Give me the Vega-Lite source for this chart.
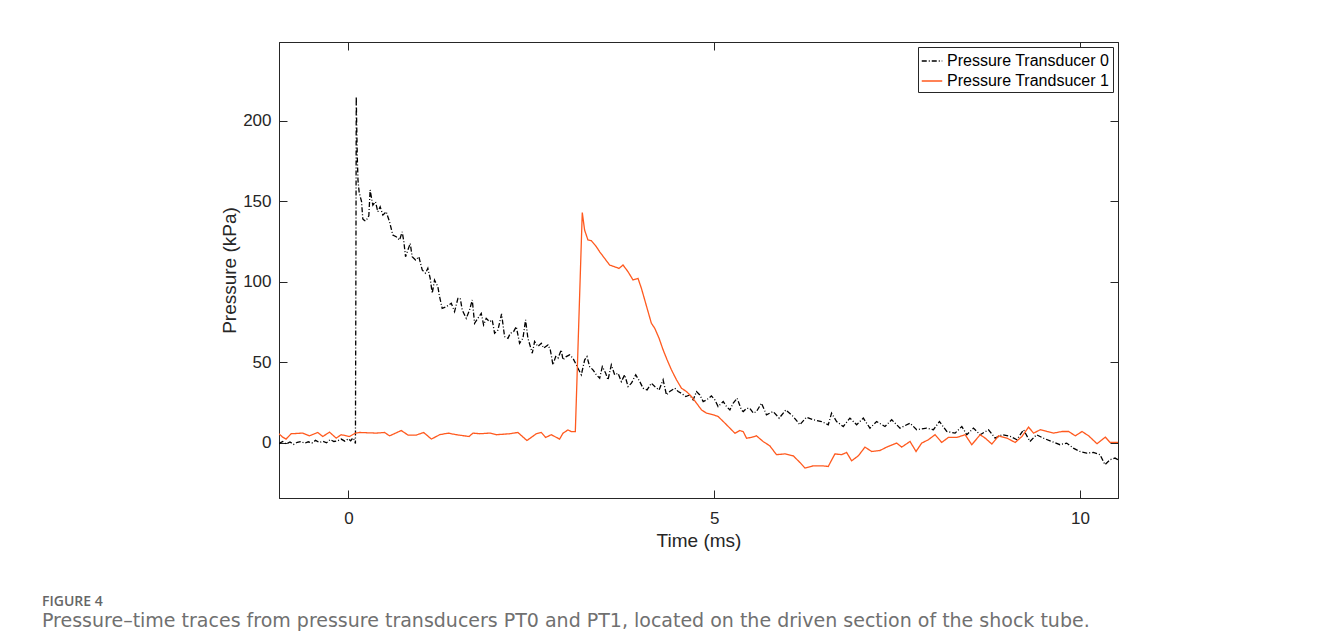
{
  "$schema": "https://vega.github.io/schema/vega-lite/v6.json",
  "width": 839,
  "height": 456,
  "autosize": "none",
  "padding": {"left": 279, "top": 42, "right": 213, "bottom": 138},
  "background": "white",
  "config": {
    "font": "Liberation Sans",
    "view": {"stroke": "#262626", "strokeWidth": 1},
    "legend": {
      "orient": "top-right",
      "offset": 5,
      "padding": 3,
      "strokeColor": "#262626",
      "fillColor": "white",
      "cornerRadius": 0,
      "labelFont": "Liberation Sans",
      "labelFontSize": 16,
      "labelColor": "#000000",
      "labelLimit": 400,
      "symbolType": "stroke",
      "symbolSize": 420,
      "symbolStrokeWidth": 1.3,
      "rowPadding": 1,
      "labelOffset": 4
    }
  },
  "title": {
    "text": "FIGURE 4",
    "subtitle": "Pressure\u2013time traces from pressure transducers PT0 and PT1, located on the driven section of the shock tube.",
    "orient": "bottom",
    "anchor": "start",
    "frame": "group",
    "dx": -237,
    "offset": 45,
    "font": "Open Sans",
    "fontSize": 14,
    "fontWeight": 600,
    "color": "#666666",
    "subtitleFont": "DejaVu Sans",
    "subtitleFontSize": 19,
    "subtitleColor": "#707070",
    "subtitlePadding": 3
  },
  "data": {"values": [
    {"s":"Pressure Transducer 0","t":-0.95,"p":-0.5},{"s":"Pressure Transducer 0","t":-0.9,"p":0.8},{"s":"Pressure Transducer 0","t":-0.85,"p":-0.8},{"s":"Pressure Transducer 0","t":-0.8,"p":0.5},{"s":"Pressure Transducer 0","t":-0.75,"p":-1.0},{"s":"Pressure Transducer 0","t":-0.7,"p":0.3},{"s":"Pressure Transducer 0","t":-0.65,"p":0.8},{"s":"Pressure Transducer 0","t":-0.6,"p":-0.3},{"s":"Pressure Transducer 0","t":-0.55,"p":0.6},{"s":"Pressure Transducer 0","t":-0.5,"p":-0.2},{"s":"Pressure Transducer 0","t":-0.45,"p":1.5},{"s":"Pressure Transducer 0","t":-0.4,"p":0.2},{"s":"Pressure Transducer 0","t":-0.35,"p":0.9},{"s":"Pressure Transducer 0","t":-0.3,"p":0.0},{"s":"Pressure Transducer 0","t":-0.25,"p":2.0},{"s":"Pressure Transducer 0","t":-0.2,"p":0.8},{"s":"Pressure Transducer 0","t":-0.15,"p":1.2},{"s":"Pressure Transducer 0","t":-0.1,"p":2.3},{"s":"Pressure Transducer 0","t":-0.05,"p":1.0},{"s":"Pressure Transducer 0","t":0.0,"p":2.5},{"s":"Pressure Transducer 0","t":0.03,"p":1.2},{"s":"Pressure Transducer 0","t":0.06,"p":3.0},{"s":"Pressure Transducer 0","t":0.08,"p":1.8},{"s":"Pressure Transducer 0","t":0.095,"p":-0.5},{"s":"Pressure Transducer 0","t":0.102,"p":120},{"s":"Pressure Transducer 0","t":0.106,"p":215},{"s":"Pressure Transducer 0","t":0.112,"p":198},{"s":"Pressure Transducer 0","t":0.12,"p":178},{"s":"Pressure Transducer 0","t":0.13,"p":163},{"s":"Pressure Transducer 0","t":0.145,"p":156},{"s":"Pressure Transducer 0","t":0.16,"p":153},{"s":"Pressure Transducer 0","t":0.178,"p":150},{"s":"Pressure Transducer 0","t":0.196,"p":139},{"s":"Pressure Transducer 0","t":0.22,"p":138},{"s":"Pressure Transducer 0","t":0.242,"p":138},{"s":"Pressure Transducer 0","t":0.265,"p":140},{"s":"Pressure Transducer 0","t":0.278,"p":141},{"s":"Pressure Transducer 0","t":0.296,"p":157},{"s":"Pressure Transducer 0","t":0.315,"p":152},{"s":"Pressure Transducer 0","t":0.333,"p":147.6},{"s":"Pressure Transducer 0","t":0.369,"p":149.7},{"s":"Pressure Transducer 0","t":0.401,"p":143.5},{"s":"Pressure Transducer 0","t":0.433,"p":146.6},{"s":"Pressure Transducer 0","t":0.47,"p":141.4},{"s":"Pressure Transducer 0","t":0.515,"p":143.5},{"s":"Pressure Transducer 0","t":0.561,"p":137.3},{"s":"Pressure Transducer 0","t":0.606,"p":129},{"s":"Pressure Transducer 0","t":0.652,"p":128},{"s":"Pressure Transducer 0","t":0.698,"p":125.9},{"s":"Pressure Transducer 0","t":0.734,"p":131},{"s":"Pressure Transducer 0","t":0.757,"p":124.9},{"s":"Pressure Transducer 0","t":0.78,"p":115.5},{"s":"Pressure Transducer 0","t":0.812,"p":119.7},{"s":"Pressure Transducer 0","t":0.844,"p":123.8},{"s":"Pressure Transducer 0","t":0.871,"p":115.5},{"s":"Pressure Transducer 0","t":0.917,"p":113.5},{"s":"Pressure Transducer 0","t":0.962,"p":115.5},{"s":"Pressure Transducer 0","t":1.008,"p":107.3},{"s":"Pressure Transducer 0","t":1.053,"p":105.3},{"s":"Pressure Transducer 0","t":1.085,"p":108.4},{"s":"Pressure Transducer 0","t":1.117,"p":102.1},{"s":"Pressure Transducer 0","t":1.145,"p":92.8},{"s":"Pressure Transducer 0","t":1.176,"p":101},{"s":"Pressure Transducer 0","t":1.222,"p":96.9},{"s":"Pressure Transducer 0","t":1.245,"p":90.8},{"s":"Pressure Transducer 0","t":1.281,"p":83.5},{"s":"Pressure Transducer 0","t":1.336,"p":84.5},{"s":"Pressure Transducer 0","t":1.405,"p":86.6},{"s":"Pressure Transducer 0","t":1.45,"p":81.5},{"s":"Pressure Transducer 0","t":1.496,"p":89.7},{"s":"Pressure Transducer 0","t":1.528,"p":89.7},{"s":"Pressure Transducer 0","t":1.555,"p":82.5},{"s":"Pressure Transducer 0","t":1.61,"p":77.3},{"s":"Pressure Transducer 0","t":1.655,"p":82.5},{"s":"Pressure Transducer 0","t":1.692,"p":88.7},{"s":"Pressure Transducer 0","t":1.724,"p":74.2},{"s":"Pressure Transducer 0","t":1.769,"p":77.3},{"s":"Pressure Transducer 0","t":1.815,"p":80.4},{"s":"Pressure Transducer 0","t":1.847,"p":73.2},{"s":"Pressure Transducer 0","t":1.883,"p":77.3},{"s":"Pressure Transducer 0","t":1.929,"p":75.2},{"s":"Pressure Transducer 0","t":1.965,"p":76.3},{"s":"Pressure Transducer 0","t":1.997,"p":68},{"s":"Pressure Transducer 0","t":2.043,"p":70},{"s":"Pressure Transducer 0","t":2.093,"p":80},{"s":"Pressure Transducer 0","t":2.134,"p":65.9},{"s":"Pressure Transducer 0","t":2.18,"p":64.9},{"s":"Pressure Transducer 0","t":2.212,"p":68},{"s":"Pressure Transducer 0","t":2.257,"p":69},{"s":"Pressure Transducer 0","t":2.294,"p":72.1},{"s":"Pressure Transducer 0","t":2.339,"p":61.8},{"s":"Pressure Transducer 0","t":2.385,"p":64.9},{"s":"Pressure Transducer 0","t":2.421,"p":76.3},{"s":"Pressure Transducer 0","t":2.453,"p":64.9},{"s":"Pressure Transducer 0","t":2.513,"p":55.6},{"s":"Pressure Transducer 0","t":2.544,"p":62.9},{"s":"Pressure Transducer 0","t":2.59,"p":59.8},{"s":"Pressure Transducer 0","t":2.636,"p":61.8},{"s":"Pressure Transducer 0","t":2.668,"p":58.8},{"s":"Pressure Transducer 0","t":2.727,"p":60.8},{"s":"Pressure Transducer 0","t":2.759,"p":57.7},{"s":"Pressure Transducer 0","t":2.795,"p":48.4},{"s":"Pressure Transducer 0","t":2.832,"p":53.5},{"s":"Pressure Transducer 0","t":2.864,"p":52.5},{"s":"Pressure Transducer 0","t":2.909,"p":57.7},{"s":"Pressure Transducer 0","t":2.932,"p":51.5},{"s":"Pressure Transducer 0","t":2.977,"p":53.5},{"s":"Pressure Transducer 0","t":3.023,"p":54.6},{"s":"Pressure Transducer 0","t":3.069,"p":52.5},{"s":"Pressure Transducer 0","t":3.114,"p":48.4},{"s":"Pressure Transducer 0","t":3.137,"p":46.3},{"s":"Pressure Transducer 0","t":3.183,"p":42.2},{"s":"Pressure Transducer 0","t":3.229,"p":51.5},{"s":"Pressure Transducer 0","t":3.26,"p":53.5},{"s":"Pressure Transducer 0","t":3.297,"p":47.3},{"s":"Pressure Transducer 0","t":3.342,"p":45.3},{"s":"Pressure Transducer 0","t":3.388,"p":42.2},{"s":"Pressure Transducer 0","t":3.434,"p":40.1},{"s":"Pressure Transducer 0","t":3.47,"p":47.3},{"s":"Pressure Transducer 0","t":3.516,"p":43.2},{"s":"Pressure Transducer 0","t":3.548,"p":39.1},{"s":"Pressure Transducer 0","t":3.593,"p":48.4},{"s":"Pressure Transducer 0","t":3.639,"p":42.2},{"s":"Pressure Transducer 0","t":3.685,"p":43.2},{"s":"Pressure Transducer 0","t":3.73,"p":38},{"s":"Pressure Transducer 0","t":3.776,"p":42.2},{"s":"Pressure Transducer 0","t":3.822,"p":34.9},{"s":"Pressure Transducer 0","t":3.868,"p":37},{"s":"Pressure Transducer 0","t":3.927,"p":42.2},{"s":"Pressure Transducer 0","t":3.982,"p":38},{"s":"Pressure Transducer 0","t":4.027,"p":33.9},{"s":"Pressure Transducer 0","t":4.082,"p":32.8},{"s":"Pressure Transducer 0","t":4.141,"p":37},{"s":"Pressure Transducer 0","t":4.187,"p":34.9},{"s":"Pressure Transducer 0","t":4.246,"p":32.8},{"s":"Pressure Transducer 0","t":4.301,"p":39.1},{"s":"Pressure Transducer 0","t":4.347,"p":29.7},{"s":"Pressure Transducer 0","t":4.392,"p":31.8},{"s":"Pressure Transducer 0","t":4.461,"p":33.9},{"s":"Pressure Transducer 0","t":4.507,"p":31.8},{"s":"Pressure Transducer 0","t":4.552,"p":30.7},{"s":"Pressure Transducer 0","t":4.611,"p":28.7},{"s":"Pressure Transducer 0","t":4.666,"p":29.7},{"s":"Pressure Transducer 0","t":4.712,"p":26.6},{"s":"Pressure Transducer 0","t":4.758,"p":31.8},{"s":"Pressure Transducer 0","t":4.803,"p":29.7},{"s":"Pressure Transducer 0","t":4.849,"p":25.6},{"s":"Pressure Transducer 0","t":4.895,"p":26.6},{"s":"Pressure Transducer 0","t":4.961,"p":29.1},{"s":"Pressure Transducer 0","t":5.009,"p":26.6},{"s":"Pressure Transducer 0","t":5.053,"p":22.5},{"s":"Pressure Transducer 0","t":5.123,"p":25.6},{"s":"Pressure Transducer 0","t":5.168,"p":22.5},{"s":"Pressure Transducer 0","t":5.214,"p":20.4},{"s":"Pressure Transducer 0","t":5.26,"p":24.6},{"s":"Pressure Transducer 0","t":5.313,"p":27.7},{"s":"Pressure Transducer 0","t":5.372,"p":20.4},{"s":"Pressure Transducer 0","t":5.397,"p":19.4},{"s":"Pressure Transducer 0","t":5.442,"p":21.4},{"s":"Pressure Transducer 0","t":5.486,"p":21.4},{"s":"Pressure Transducer 0","t":5.534,"p":18.4},{"s":"Pressure Transducer 0","t":5.578,"p":19.4},{"s":"Pressure Transducer 0","t":5.646,"p":24.6},{"s":"Pressure Transducer 0","t":5.714,"p":17.4},{"s":"Pressure Transducer 0","t":5.806,"p":19.4},{"s":"Pressure Transducer 0","t":5.888,"p":15.3},{"s":"Pressure Transducer 0","t":5.979,"p":20.4},{"s":"Pressure Transducer 0","t":6.08,"p":16.3},{"s":"Pressure Transducer 0","t":6.171,"p":11.2},{"s":"Pressure Transducer 0","t":6.262,"p":15.9},{"s":"Pressure Transducer 0","t":6.353,"p":14.3},{"s":"Pressure Transducer 0","t":6.467,"p":13.2},{"s":"Pressure Transducer 0","t":6.559,"p":11.2},{"s":"Pressure Transducer 0","t":6.604,"p":18.4},{"s":"Pressure Transducer 0","t":6.673,"p":13.2},{"s":"Pressure Transducer 0","t":6.764,"p":10.1},{"s":"Pressure Transducer 0","t":6.855,"p":15.3},{"s":"Pressure Transducer 0","t":6.947,"p":11.2},{"s":"Pressure Transducer 0","t":7.038,"p":15.3},{"s":"Pressure Transducer 0","t":7.129,"p":9.1},{"s":"Pressure Transducer 0","t":7.22,"p":13.2},{"s":"Pressure Transducer 0","t":7.334,"p":10.1},{"s":"Pressure Transducer 0","t":7.426,"p":14.3},{"s":"Pressure Transducer 0","t":7.54,"p":9.1},{"s":"Pressure Transducer 0","t":7.677,"p":12.2},{"s":"Pressure Transducer 0","t":7.768,"p":8.1},{"s":"Pressure Transducer 0","t":7.905,"p":9.1},{"s":"Pressure Transducer 0","t":7.997,"p":8.1},{"s":"Pressure Transducer 0","t":8.079,"p":13.2},{"s":"Pressure Transducer 0","t":8.179,"p":7},{"s":"Pressure Transducer 0","t":8.293,"p":6},{"s":"Pressure Transducer 0","t":8.385,"p":10.1},{"s":"Pressure Transducer 0","t":8.453,"p":5},{"s":"Pressure Transducer 0","t":8.544,"p":9.1},{"s":"Pressure Transducer 0","t":8.636,"p":5},{"s":"Pressure Transducer 0","t":8.75,"p":8.1},{"s":"Pressure Transducer 0","t":8.841,"p":2.9},{"s":"Pressure Transducer 0","t":8.933,"p":5},{"s":"Pressure Transducer 0","t":9.047,"p":4},{"s":"Pressure Transducer 0","t":9.138,"p":1.9},{"s":"Pressure Transducer 0","t":9.229,"p":8.1},{"s":"Pressure Transducer 0","t":9.316,"p":0.8},{"s":"Pressure Transducer 0","t":9.407,"p":5},{"s":"Pressure Transducer 0","t":9.498,"p":2.9},{"s":"Pressure Transducer 0","t":9.612,"p":0.8},{"s":"Pressure Transducer 0","t":9.727,"p":-1.2},{"s":"Pressure Transducer 0","t":9.818,"p":-0.2},{"s":"Pressure Transducer 0","t":9.909,"p":-3.3},{"s":"Pressure Transducer 0","t":10.0,"p":-5.4},{"s":"Pressure Transducer 0","t":10.092,"p":-6.4},{"s":"Pressure Transducer 0","t":10.183,"p":-6},{"s":"Pressure Transducer 0","t":10.274,"p":-7.4},{"s":"Pressure Transducer 0","t":10.342,"p":-13.6},{"s":"Pressure Transducer 0","t":10.411,"p":-10.5},{"s":"Pressure Transducer 0","t":10.479,"p":-9.5},{"s":"Pressure Transducer 0","t":10.52,"p":-10.5},
    {"s":"Pressure Trandsucer 1","t":-0.95,"p":5.6},{"s":"Pressure Trandsucer 1","t":-0.9,"p":3.5},{"s":"Pressure Trandsucer 1","t":-0.853,"p":2.3},{"s":"Pressure Trandsucer 1","t":-0.784,"p":5.6},{"s":"Pressure Trandsucer 1","t":-0.625,"p":6.0},{"s":"Pressure Trandsucer 1","t":-0.534,"p":4.3},{"s":"Pressure Trandsucer 1","t":-0.42,"p":6.4},{"s":"Pressure Trandsucer 1","t":-0.351,"p":3.9},{"s":"Pressure Trandsucer 1","t":-0.26,"p":6.6},{"s":"Pressure Trandsucer 1","t":-0.168,"p":2.9},{"s":"Pressure Trandsucer 1","t":-0.1,"p":5.0},{"s":"Pressure Trandsucer 1","t":0.014,"p":3.9},{"s":"Pressure Trandsucer 1","t":0.096,"p":6.0},{"s":"Pressure Trandsucer 1","t":0.151,"p":6.4},{"s":"Pressure Trandsucer 1","t":0.379,"p":6.0},{"s":"Pressure Trandsucer 1","t":0.493,"p":6.4},{"s":"Pressure Trandsucer 1","t":0.562,"p":4.3},{"s":"Pressure Trandsucer 1","t":0.722,"p":7.6},{"s":"Pressure Trandsucer 1","t":0.813,"p":4.8},{"s":"Pressure Trandsucer 1","t":0.927,"p":4.8},{"s":"Pressure Trandsucer 1","t":1.028,"p":6.4},{"s":"Pressure Trandsucer 1","t":1.133,"p":2.3},{"s":"Pressure Trandsucer 1","t":1.247,"p":5.0},{"s":"Pressure Trandsucer 1","t":1.361,"p":6.0},{"s":"Pressure Trandsucer 1","t":1.475,"p":5.0},{"s":"Pressure Trandsucer 1","t":1.648,"p":3.9},{"s":"Pressure Trandsucer 1","t":1.703,"p":6.0},{"s":"Pressure Trandsucer 1","t":1.794,"p":5.6},{"s":"Pressure Trandsucer 1","t":1.931,"p":6.0},{"s":"Pressure Trandsucer 1","t":2.022,"p":5.0},{"s":"Pressure Trandsucer 1","t":2.202,"p":5.6},{"s":"Pressure Trandsucer 1","t":2.316,"p":6.4},{"s":"Pressure Trandsucer 1","t":2.44,"p":1.4},{"s":"Pressure Trandsucer 1","t":2.567,"p":5.6},{"s":"Pressure Trandsucer 1","t":2.635,"p":6.4},{"s":"Pressure Trandsucer 1","t":2.695,"p":3.3},{"s":"Pressure Trandsucer 1","t":2.772,"p":5.0},{"s":"Pressure Trandsucer 1","t":2.886,"p":2.3},{"s":"Pressure Trandsucer 1","t":2.932,"p":5.9},{"s":"Pressure Trandsucer 1","t":3.0,"p":8.0},{"s":"Pressure Trandsucer 1","t":3.046,"p":6.9},{"s":"Pressure Trandsucer 1","t":3.101,"p":6.9},{"s":"Pressure Trandsucer 1","t":3.196,"p":143},{"s":"Pressure Trandsucer 1","t":3.228,"p":132.1},{"s":"Pressure Trandsucer 1","t":3.274,"p":125.9},{"s":"Pressure Trandsucer 1","t":3.32,"p":125.5},{"s":"Pressure Trandsucer 1","t":3.388,"p":121.8},{"s":"Pressure Trandsucer 1","t":3.434,"p":118.6},{"s":"Pressure Trandsucer 1","t":3.502,"p":114.5},{"s":"Pressure Trandsucer 1","t":3.57,"p":110.4},{"s":"Pressure Trandsucer 1","t":3.639,"p":109.3},{"s":"Pressure Trandsucer 1","t":3.698,"p":108.3},{"s":"Pressure Trandsucer 1","t":3.753,"p":110.4},{"s":"Pressure Trandsucer 1","t":3.822,"p":106.2},{"s":"Pressure Trandsucer 1","t":3.89,"p":101.1},{"s":"Pressure Trandsucer 1","t":3.958,"p":102.1},{"s":"Pressure Trandsucer 1","t":4.004,"p":96},{"s":"Pressure Trandsucer 1","t":4.05,"p":88.7},{"s":"Pressure Trandsucer 1","t":4.095,"p":81.5},{"s":"Pressure Trandsucer 1","t":4.141,"p":74.2},{"s":"Pressure Trandsucer 1","t":4.187,"p":71.1},{"s":"Pressure Trandsucer 1","t":4.246,"p":64.9},{"s":"Pressure Trandsucer 1","t":4.301,"p":57.7},{"s":"Pressure Trandsucer 1","t":4.356,"p":51.5},{"s":"Pressure Trandsucer 1","t":4.415,"p":45.3},{"s":"Pressure Trandsucer 1","t":4.484,"p":39.1},{"s":"Pressure Trandsucer 1","t":4.552,"p":33.9},{"s":"Pressure Trandsucer 1","t":4.621,"p":31.8},{"s":"Pressure Trandsucer 1","t":4.689,"p":28.7},{"s":"Pressure Trandsucer 1","t":4.758,"p":24.6},{"s":"Pressure Trandsucer 1","t":4.826,"p":20.4},{"s":"Pressure Trandsucer 1","t":4.895,"p":18.4},{"s":"Pressure Trandsucer 1","t":4.986,"p":17.4},{"s":"Pressure Trandsucer 1","t":5.054,"p":16.3},{"s":"Pressure Trandsucer 1","t":5.146,"p":12.2},{"s":"Pressure Trandsucer 1","t":5.214,"p":9.1},{"s":"Pressure Trandsucer 1","t":5.283,"p":5.9},{"s":"Pressure Trandsucer 1","t":5.351,"p":7.6},{"s":"Pressure Trandsucer 1","t":5.397,"p":6.9},{"s":"Pressure Trandsucer 1","t":5.442,"p":2.8},{"s":"Pressure Trandsucer 1","t":5.511,"p":3.4},{"s":"Pressure Trandsucer 1","t":5.578,"p":4.3},{"s":"Pressure Trandsucer 1","t":5.668,"p":0.8},{"s":"Pressure Trandsucer 1","t":5.76,"p":-1.9},{"s":"Pressure Trandsucer 1","t":5.851,"p":-7.4},{"s":"Pressure Trandsucer 1","t":5.965,"p":-6.9},{"s":"Pressure Trandsucer 1","t":6.08,"p":-8.1},{"s":"Pressure Trandsucer 1","t":6.171,"p":-12.2},{"s":"Pressure Trandsucer 1","t":6.24,"p":-15.7},{"s":"Pressure Trandsucer 1","t":6.353,"p":-14.3},{"s":"Pressure Trandsucer 1","t":6.467,"p":-14.3},{"s":"Pressure Trandsucer 1","t":6.559,"p":-14.7},{"s":"Pressure Trandsucer 1","t":6.65,"p":-6.9},{"s":"Pressure Trandsucer 1","t":6.741,"p":-7.4},{"s":"Pressure Trandsucer 1","t":6.81,"p":-6.0},{"s":"Pressure Trandsucer 1","t":6.878,"p":-11.2},{"s":"Pressure Trandsucer 1","t":6.97,"p":-8.1},{"s":"Pressure Trandsucer 1","t":7.061,"p":-2.7},{"s":"Pressure Trandsucer 1","t":7.152,"p":-5.4},{"s":"Pressure Trandsucer 1","t":7.266,"p":-4.8},{"s":"Pressure Trandsucer 1","t":7.357,"p":-2.7},{"s":"Pressure Trandsucer 1","t":7.494,"p":-0.2},{"s":"Pressure Trandsucer 1","t":7.563,"p":-2.7},{"s":"Pressure Trandsucer 1","t":7.677,"p":0.8},{"s":"Pressure Trandsucer 1","t":7.759,"p":-5.4},{"s":"Pressure Trandsucer 1","t":7.836,"p":-0.2},{"s":"Pressure Trandsucer 1","t":7.928,"p":1.9},{"s":"Pressure Trandsucer 1","t":8.019,"p":5.0},{"s":"Pressure Trandsucer 1","t":8.11,"p":0.2},{"s":"Pressure Trandsucer 1","t":8.201,"p":3.3},{"s":"Pressure Trandsucer 1","t":8.315,"p":3.3},{"s":"Pressure Trandsucer 1","t":8.43,"p":5.0},{"s":"Pressure Trandsucer 1","t":8.521,"p":-1.2},{"s":"Pressure Trandsucer 1","t":8.636,"p":5.0},{"s":"Pressure Trandsucer 1","t":8.704,"p":2.9},{"s":"Pressure Trandsucer 1","t":8.796,"p":-0.8},{"s":"Pressure Trandsucer 1","t":8.887,"p":4.3},{"s":"Pressure Trandsucer 1","t":9.001,"p":2.9},{"s":"Pressure Trandsucer 1","t":9.115,"p":0.2},{"s":"Pressure Trandsucer 1","t":9.206,"p":3.9},{"s":"Pressure Trandsucer 1","t":9.297,"p":9.7},{"s":"Pressure Trandsucer 1","t":9.366,"p":6.0},{"s":"Pressure Trandsucer 1","t":9.458,"p":8.1},{"s":"Pressure Trandsucer 1","t":9.549,"p":7.0},{"s":"Pressure Trandsucer 1","t":9.64,"p":6.0},{"s":"Pressure Trandsucer 1","t":9.754,"p":7.0},{"s":"Pressure Trandsucer 1","t":9.846,"p":7.0},{"s":"Pressure Trandsucer 1","t":9.937,"p":4.3},{"s":"Pressure Trandsucer 1","t":10.028,"p":7.0},{"s":"Pressure Trandsucer 1","t":10.119,"p":4.3},{"s":"Pressure Trandsucer 1","t":10.233,"p":-0.6},{"s":"Pressure Trandsucer 1","t":10.347,"p":3.5},{"s":"Pressure Trandsucer 1","t":10.411,"p":0.2},{"s":"Pressure Trandsucer 1","t":10.52,"p":0.2}
  ]},
  "layer": [
    {
      "mark": {"type": "line", "strokeWidth": 1.3, "clip": true},
      "encoding": {
        "x": {
          "field": "t", "type": "quantitative",
          "scale": {"domain": [-0.95, 10.52], "nice": false, "zero": false},
          "axis": {
            "orient": "bottom", "values": [0, 5, 10], "title": "Time (ms)", "grid": false,
            "tickSize": -8, "tickColor": "#262626", "domainColor": "#262626",
            "labelFont": "Liberation Sans", "labelFontSize": 17, "labelColor": "#262626", "labelPadding": 20,
            "titleFont": "Liberation Sans", "titleFontSize": 19, "titleFontWeight": "normal", "titleColor": "#262626", "titlePadding": 5
          }
        },
        "y": {
          "field": "p", "type": "quantitative",
          "scale": {"domain": [-34.3, 248.9], "nice": false, "zero": false},
          "axis": {
            "orient": "left", "values": [0, 50, 100, 150, 200], "title": "Pressure (kPa)", "grid": false,
            "tickSize": -8, "tickColor": "#262626", "domainColor": "#262626",
            "labelFont": "Liberation Sans", "labelFontSize": 17, "labelColor": "#262626", "labelPadding": 16,
            "titleFont": "Liberation Sans", "titleFontSize": 19, "titleFontWeight": "normal", "titleColor": "#262626", "titlePadding": 3
          }
        },
        "color": {
          "field": "s", "type": "nominal",
          "scale": {"domain": ["Pressure Transducer 0", "Pressure Trandsucer 1"], "range": ["#000000", "#FF5A1F"]},
          "legend": {"title": null}
        },
        "strokeDash": {
          "field": "s", "type": "nominal",
          "scale": {"domain": ["Pressure Transducer 0", "Pressure Trandsucer 1"], "range": [[5, 2, 1, 2], [1, 0]]},
          "legend": {"title": null}
        }
      }
    },
    {
      "mark": {"type": "line", "opacity": 0},
      "encoding": {
        "x": {
          "field": "t", "type": "quantitative",
          "axis": {"orient": "top", "values": [0, 5, 10], "title": null, "labels": false, "grid": false, "tickSize": -8, "tickColor": "#262626", "domainColor": "#262626"}
        },
        "y": {
          "field": "p", "type": "quantitative",
          "axis": {"orient": "right", "values": [0, 50, 100, 150, 200], "title": null, "labels": false, "grid": false, "tickSize": -8, "tickColor": "#262626", "domainColor": "#262626"}
        }
      }
    }
  ],
  "resolve": {"axis": {"x": "independent", "y": "independent"}}
}
